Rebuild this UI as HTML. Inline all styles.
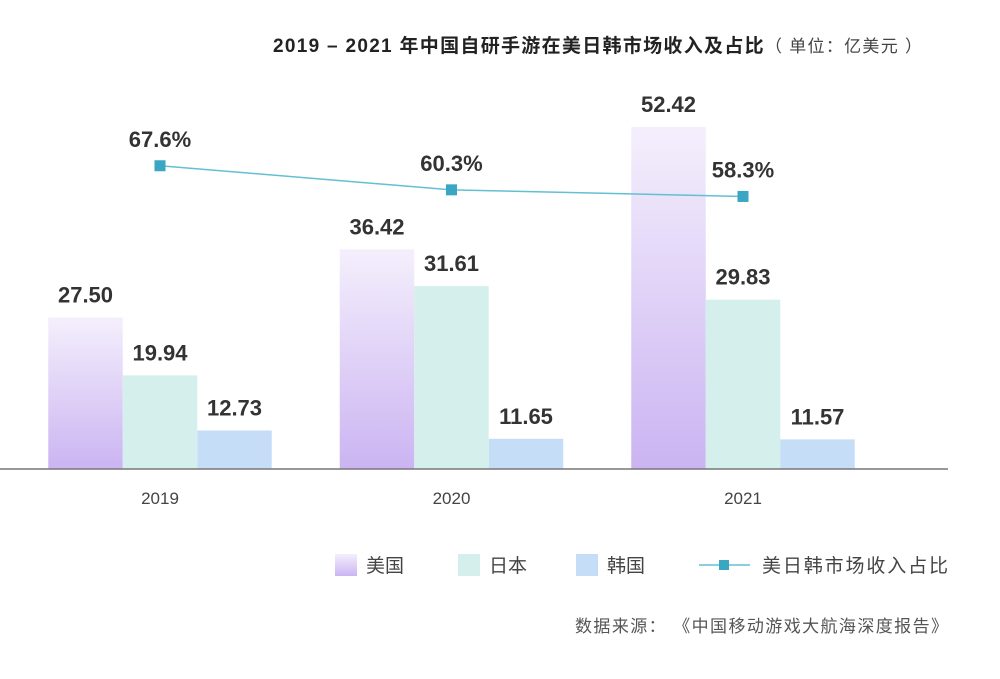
<!DOCTYPE html>
<html><head><meta charset="utf-8"><style>
body{margin:0;background:#fff;font-family:"Liberation Sans","Noto Sans CJK SC",sans-serif}
</style></head><body>
<svg width="1000" height="674" viewBox="0 0 1000 674" xmlns="http://www.w3.org/2000/svg">
<defs>
<linearGradient id="gUS" x1="0" y1="0" x2="0" y2="1"><stop offset="0" stop-color="#f4effc"/><stop offset="1" stop-color="#cbb4f2"/></linearGradient>
</defs>
<text x="273" y="52" font-size="19" font-weight="bold" fill="#222" textLength="649" lengthAdjust="spacing">2019 – 2021 年中国自研手游在美日韩市场收入及占比<tspan font-weight="normal" font-size="17" fill="#444">（ 单位：亿美元 ）</tspan></text>
<g id="bars"></g>
<g id="line"></g>
<line x1="0" y1="469" x2="948" y2="469" stroke="#777" stroke-width="1.5"/>
<g id="xlabels"></g>
<g font-size="19" fill="#444">
<rect x="335" y="554" width="22" height="22" fill="url(#gUS)"/>
<text x="366" y="572">美国</text>
<rect x="458" y="554" width="22" height="22" fill="#d5f0ec"/>
<text x="489" y="572">日本</text>
<rect x="576" y="554" width="22" height="22" fill="#c6ddf7"/>
<text x="607" y="572">韩国</text>
<line x1="699" y1="565" x2="750" y2="565" stroke="#62c0d3" stroke-width="1.5"/>
<rect x="719" y="560" width="10" height="10" fill="#3aa6c2"/>
<text x="762" y="572" textLength="186" lengthAdjust="spacing">美日韩市场收入占比</text>
</g>
<text x="575" y="632" font-size="17" fill="#555" textLength="373" lengthAdjust="spacing">数据来源： 《中国移动游戏大航海深度报告》</text>
</svg>
<script>
const years=["2019","2020","2021"];
const usVals=[27.50,36.42,52.42];
const jpVals=[19.94,31.61,29.83];
const krVals=[12.73,11.65,11.57];
const shareVals=[67.6,60.3,58.3];
const NS="http://www.w3.org/2000/svg";
const base=469;
function yBar(v){return base-(v-7.7)*7.65;}
function yShare(v){return 184-(v-62.07)*3.3;}
function xGroup(i){return 160+i*291.5;}
const bw=74.5;
function mk(tag,attrs,parent){const e=document.createElementNS(NS,tag);for(const k in attrs)e.setAttribute(k,attrs[k]);parent.appendChild(e);return e;}
const gb=document.getElementById('bars'),gl=document.getElementById('line'),gx=document.getElementById('xlabels');
const series=[[usVals,"url(#gUS)","us"],[jpVals,"#d5f0ec","jp"],[krVals,"#c6ddf7","kr"]];
years.forEach((yr,i)=>{
 series.forEach((s,j)=>{
  const v=s[0][i],x=xGroup(i)-1.5*bw+j*bw,y=yBar(v);
  const r=mk('rect',{x:x,y:y,width:bw,height:base-y,fill:s[1]},gb);
  
  
  const t=mk('text',{x:x+bw/2,y:y-15,'text-anchor':'middle','font-size':'22','font-weight':'bold',fill:'#333'},gb);
  t.textContent=v.toFixed(2);
  
  
 });
 const xl=mk('text',{x:xGroup(i),y:504,'text-anchor':'middle','font-size':'17',fill:'#444'},gx);
 xl.textContent=yr;
 
 
});
const pts=shareVals.map((v,i)=>[xGroup(i),yShare(v)]);
const pl=mk('polyline',{points:pts.map(p=>p.join(',')).join(' '),fill:'none',stroke:'#62c0d3','stroke-width':'1.5'},gl);


pts.forEach((p,i)=>{
 const m=mk('rect',{x:p[0]-5.5,y:p[1]-5.5,width:11,height:11,fill:'#3aa6c2'},gl);
 
 
 const t=mk('text',{x:p[0],y:p[1]-19,'text-anchor':'middle','font-size':'22','font-weight':'bold',fill:'#333'},gl);
 t.textContent=shareVals[i].toFixed(1)+'%';
 
 
});
</script>
</body></html>
